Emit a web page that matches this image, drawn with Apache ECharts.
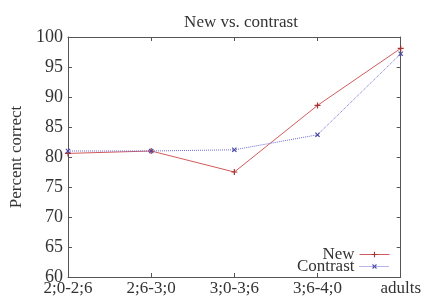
<!DOCTYPE html>
<html>
<head>
<meta charset="utf-8">
<script src="https://cdn.jsdelivr.net/npm/echarts@6/dist/echarts.min.js"></script>
<style>
  html, body { margin: 0; padding: 0; background: #fff; }
  #chart { width: 424px; height: 298px; }
</style>
</head>
<body>
<div id="chart"></div>
<script>
// age groups along the x axis
var ageGroups = ['2;0-2;6', '2;6-3;0', '3;0-3;6', '3;6-4;0', 'adults'];
var newValues = [80.6, 81.0, 77.5, 88.6, 98.1];
var contrastValues = [81.0, 81.0, 81.2, 83.7, 97.2];
var yTicks = [60, 65, 70, 75, 80, 85, 90, 95, 100];

var serif = 'Liberation Serif';
var textCol = '#333';
var axisCol = '#555';

// plus marker as a filled path, rotated 45 degrees for the cross
var plusPath = 'path://M4,0h2v4h4v2h-4v4h-2v-4h-4v-2h4z';

function makeSeries(name, data, lineCol, markCol, lineType, rotate) {
  return {
    name: name,
    type: 'line',
    data: data,
    symbol: plusPath,
    symbolSize: 6,
    symbolRotate: rotate,
    showAllSymbol: true,
    lineStyle: { color: lineCol, width: 1, type: lineType },
    itemStyle: { color: markCol },
    emphasis: { disabled: true },
    z: 3
  };
}

function makeLegend(name, top) {
  return {
    data: [name],
    right: 34, top: top,
    orient: 'vertical',
    align: 'right',
    padding: 0,
    itemWidth: 30, itemHeight: 7,
    lineStyle: { width: 1 },
    textStyle: { fontFamily: serif, fontSize: 17, color: textCol }
  };
}

var chart = echarts.init(document.getElementById('chart'));
var option = {
  animation: false,
  title: {
    text: 'New vs. contrast',
    left: 236,
    textAlign: 'center',
    top: 9,
    textStyle: { fontFamily: serif, fontSize: 17, fontWeight: 'normal', color: textCol }
  },
  grid: { left: 68, right: 19, top: 37, bottom: 21 },
  legend: [makeLegend('New', 246), makeLegend('Contrast', 258)],
  xAxis: [
    {
      type: 'category',
      data: ageGroups,
      boundaryGap: false,
      axisLine: { lineStyle: { color: axisCol, width: 1 } },
      axisTick: { inside: true, length: 4, lineStyle: { color: axisCol } },
      axisLabel: { fontFamily: serif, fontSize: 17, color: textCol, margin: 3, interval: 0 },
      splitLine: { show: false }
    },
    {
      type: 'category',
      data: ageGroups,
      position: 'top',
      boundaryGap: false,
      axisLine: { lineStyle: { color: axisCol, width: 1 } },
      axisTick: { inside: true, length: 4, lineStyle: { color: axisCol } },
      axisLabel: { show: false },
      splitLine: { show: false }
    }
  ],
  yAxis: [
    {
      type: 'value',
      min: yTicks[0],
      max: yTicks[yTicks.length - 1],
      interval: 5,
      name: 'Percent correct',
      nameLocation: 'middle',
      nameGap: 42,
      nameTextStyle: { fontFamily: serif, fontSize: 17, color: textCol },
      axisLine: { show: true, lineStyle: { color: axisCol, width: 1 } },
      axisTick: { show: true, inside: true, length: 4, lineStyle: { color: axisCol } },
      axisLabel: { fontFamily: serif, fontSize: 18, color: textCol, margin: 5 },
      splitLine: { show: false }
    },
    {
      type: 'value',
      min: yTicks[0],
      max: yTicks[yTicks.length - 1],
      interval: 5,
      position: 'right',
      axisLine: { show: true, lineStyle: { color: axisCol, width: 1 } },
      axisTick: { show: true, inside: true, length: 4, lineStyle: { color: axisCol } },
      axisLabel: { show: false },
      splitLine: { show: false }
    }
  ],
  series: [
    makeSeries('New', newValues, '#d25a5a', '#a83232', 'solid', 0),
    makeSeries('Contrast', contrastValues, '#6a6ad4', '#4a4aa8', 'dotted', 45)
  ]
};
chart.setOption(option);
</script>
</body>
</html>
